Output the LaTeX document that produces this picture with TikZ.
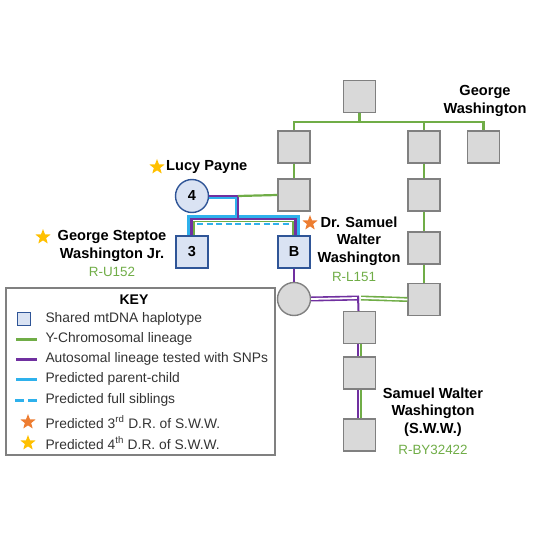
\documentclass[tikz,border=0pt]{standalone}
\usepackage{fontspec}
\setmainfont{Liberation Sans}
\usetikzlibrary{shapes.geometric, positioning, calc}
\definecolor{yGreen}{HTML}{70AD47}
\definecolor{autoPurple}{HTML}{7030A0}
\definecolor{predCyan}{HTML}{2EB1EC}
\definecolor{mtFill}{HTML}{DAE3F3}
\definecolor{mtBorder}{HTML}{2F5597}
\definecolor{greyFill}{HTML}{D9D9D9}
\definecolor{greyLine}{HTML}{808080}
\definecolor{starOrange}{HTML}{ED7D31}
\definecolor{starYellow}{HTML}{FFC000}
\definecolor{keyText}{HTML}{333333}

\begin{document}
\begin{tikzpicture}[
    x=1pt, y=-1pt,
    person/.style={
        draw=greyLine, fill=greyFill, line width=1.4pt,
        minimum size=32pt, inner sep=0pt,
    },
    mtbox/.style={
        draw=mtBorder, fill=mtFill, line width=1.4pt,
        minimum size=32pt, inner sep=0pt,
        font=\bfseries\fontsize{14.5}{16}\selectfont,
    },
    female/.style={circle, minimum size=33pt},
    ychrom/.style={yGreen, line width=2.2pt},
    autoline/.style={autoPurple, line width=2.2pt},
    predline/.style={predCyan, line width=3.6pt},
    sibs/.style={predCyan, line width=2.2pt, dash pattern=on 6pt off 3.5pt},
    starmark/.style={
        star, star points=5, star point ratio=2.4,
        inner sep=0pt, minimum size=16pt,
    },
    pname/.style={font=\bfseries\fontsize{14.6}{17.5}\selectfont, align=center},
    haplo/.style={font=\fontsize{13.4}{15}\selectfont, text=yGreen},
    keyitem/.style={font=\fontsize{13.8}{15}\selectfont, text=keyText, anchor=west},
]
\useasboundingbox (0,0) rectangle (540,540);

%--- Paternal side: George Washington's line ---
\node[person] (top) at (359.5,96.5) {};
\node[person] (r2a) at (294,147) {};
\node[person] (r2b) at (424,147) {};
\node[person] (r2c) at (483.5,147) {};
\node[person] (r3a) at (294,195) {};
\node[person] (r3b) at (424,195) {};
\node[person] (r4b) at (424,248) {};
\node[person] (r5b) at (424,299.5) {};

\coordinate (bar) at (359.5,122);
\draw[ychrom] (top.south) -- (bar);
\draw[ychrom] (r2a.north) |- (bar) -| (r2c.north);
\draw[ychrom] (bar) -| (r2b.north);
\draw[ychrom] (r2a) -- (r3a);
\draw[ychrom] (r2b) -- (r3b);
\draw[ychrom] (r3b) -- (r4b);
\draw[ychrom] (r4b) -- (r5b);

\node[pname] (gw) at (485,101) {George\\Washington};

%--- Lucy Payne and her sons ---
\node[mtbox, female] (lucy) at (192,196) {4};
\node[mtbox] (gsw) at (192,252) {3};
\node[mtbox] (bsw) at (294,252) {B};
\node[person, female] (wife) at (294,299) {};

\coordinate (jn) at (238,196);
\coordinate (brk) at (243,216.5);

% predicted parent-child (cyan, underneath)
\draw[predline, line width=2.8pt] ([yshift=-2pt]lucy.east) -- ([shift={(-2pt,-2pt)}]jn) -- ([xshift=-2pt]jn |- brk);
\draw[predline] ([xshift=-3pt]gsw.north) |- (brk) -| ([xshift=4pt]bsw.north);
% autosomal (purple)
\draw[autoline] (lucy.east) -- (jn) -- ([yshift=-2.5pt]jn |- brk);
\draw[autoline] ([xshift=-0.5pt]gsw.north) |- ([yshift=-2.5pt]brk) -| ([xshift=1.5pt]bsw.north);
% Y line into the brothers
\draw[ychrom] (r3a.west) -- (jn);
\draw[ychrom, line width=1.6pt] ([xshift=1.9pt]gsw.north) |- ([yshift=-4.8pt]brk) -| ([xshift=-1.3pt]bsw.north);
% predicted full siblings
\draw[sibs] ([shift={(5pt,11pt)}]gsw.north) -- ([shift={(-2pt,11pt)}]bsw.north);

\draw[autoline] (bsw.south) -- (wife.north);

%--- Line down to S.W.W. ---
\node[person] (m1) at (359.5,327.5) {};
\node[person] (m2) at (359.5,373) {};
\node[person] (m3) at (359.5,435) {};

\coordinate (jn2) at (359,298);
\draw[autoPurple, line width=1.6pt, double=white, double distance=1.8pt] (wife.east) -- (jn2);
\draw[yGreen, line width=1.6pt, double=white, double distance=1.8pt] ([xshift=2pt]jn2) -- (r5b.west);
\draw[autoline, line width=2pt] ([shift={(-1pt,2pt)}]jn2) -- ([xshift=-1pt]m1.north);
\draw[autoline, line width=2pt] ([xshift=-1.2pt]m1.south) -- ([xshift=-1.2pt]m2.north);
\draw[ychrom, line width=1.6pt] ([xshift=1.6pt]m1.south) -- ([xshift=1.6pt]m2.north);
\draw[autoline, line width=2pt] ([xshift=-1.2pt]m2.south) -- ([xshift=-1.2pt]m3.north);
\draw[ychrom, line width=1.6pt] ([xshift=1.6pt]m2.south) -- ([xshift=1.6pt]m3.north);

%--- Names and haplogroups ---
\node[starmark, fill=starYellow] (lucyStar) at (157,167) {};
\node[pname, anchor=west, inner sep=0pt] (lucyName) at (166,167) {Lucy Payne};

\node[starmark, fill=starYellow] (gswStar) at (43,237) {};
\node[pname] (gswName) at (112,246) {George Steptoe\\Washington Jr.};
\node[haplo] (gswHap) at (112,272) {R-U152};

\node[starmark, fill=starOrange] (bswStar) at (310,223) {};
\node[pname] (bswName) at (359,241) {Dr. Samuel\\Walter\\Washington};
\node[haplo] (bswHap) at (354,277) {R-L151};

\node[pname] (swwName) at (433,412) {Samuel Walter\\Washington\\(S.W.W.)};
\node[haplo] (swwHap) at (433,450) {R-BY32422};

%--- Key ---
\draw[greyLine, line width=2pt] (6,288) rectangle (275,455);
\node[font=\bfseries\fontsize{14}{15}\selectfont] (keyTitle) at (134,300) {KEY};

\node[draw=mtBorder, fill=mtFill, line width=1.2pt, minimum size=13pt, inner sep=0pt] (k1) at (24,319) {};
\node[keyitem] (t1) at (42,319) {Shared mtDNA haplotype};

\coordinate (k2) at (26.5,339);
\draw[yGreen, line width=3pt] ([xshift=-10.5pt]k2) -- ([xshift=10.5pt]k2);
\node[keyitem] (t2) at (42,339) {Y-Chromosomal lineage};

\coordinate (k3) at (26.5,359);
\draw[autoPurple, line width=3pt] ([xshift=-10.5pt]k3) -- ([xshift=10.5pt]k3);
\node[keyitem] (t3) at (42,359) {Autosomal lineage tested with SNPs};

\coordinate (k4) at (26.5,379);
\draw[predCyan, line width=3pt] ([xshift=-10.5pt]k4) -- ([xshift=10.5pt]k4);
\node[keyitem] (t4) at (42,379) {Predicted parent-child};

\coordinate (k5) at (26,400);
\draw[predCyan, line width=3pt, dash pattern=on 9pt off 4pt] ([xshift=-11pt]k5) -- ([xshift=11pt]k5);
\node[keyitem] (t5) at (42,400) {Predicted full siblings};

\node[starmark, fill=starOrange] (k6) at (28,422) {};
\node[keyitem] (t6) at (42,422) {Predicted 3\textsuperscript{rd} D.R. of S.W.W.};

\node[starmark, fill=starYellow] (k7) at (28,443) {};
\node[keyitem] (t7) at (42,443) {Predicted 4\textsuperscript{th} D.R. of S.W.W.};

\end{tikzpicture}
\end{document}
